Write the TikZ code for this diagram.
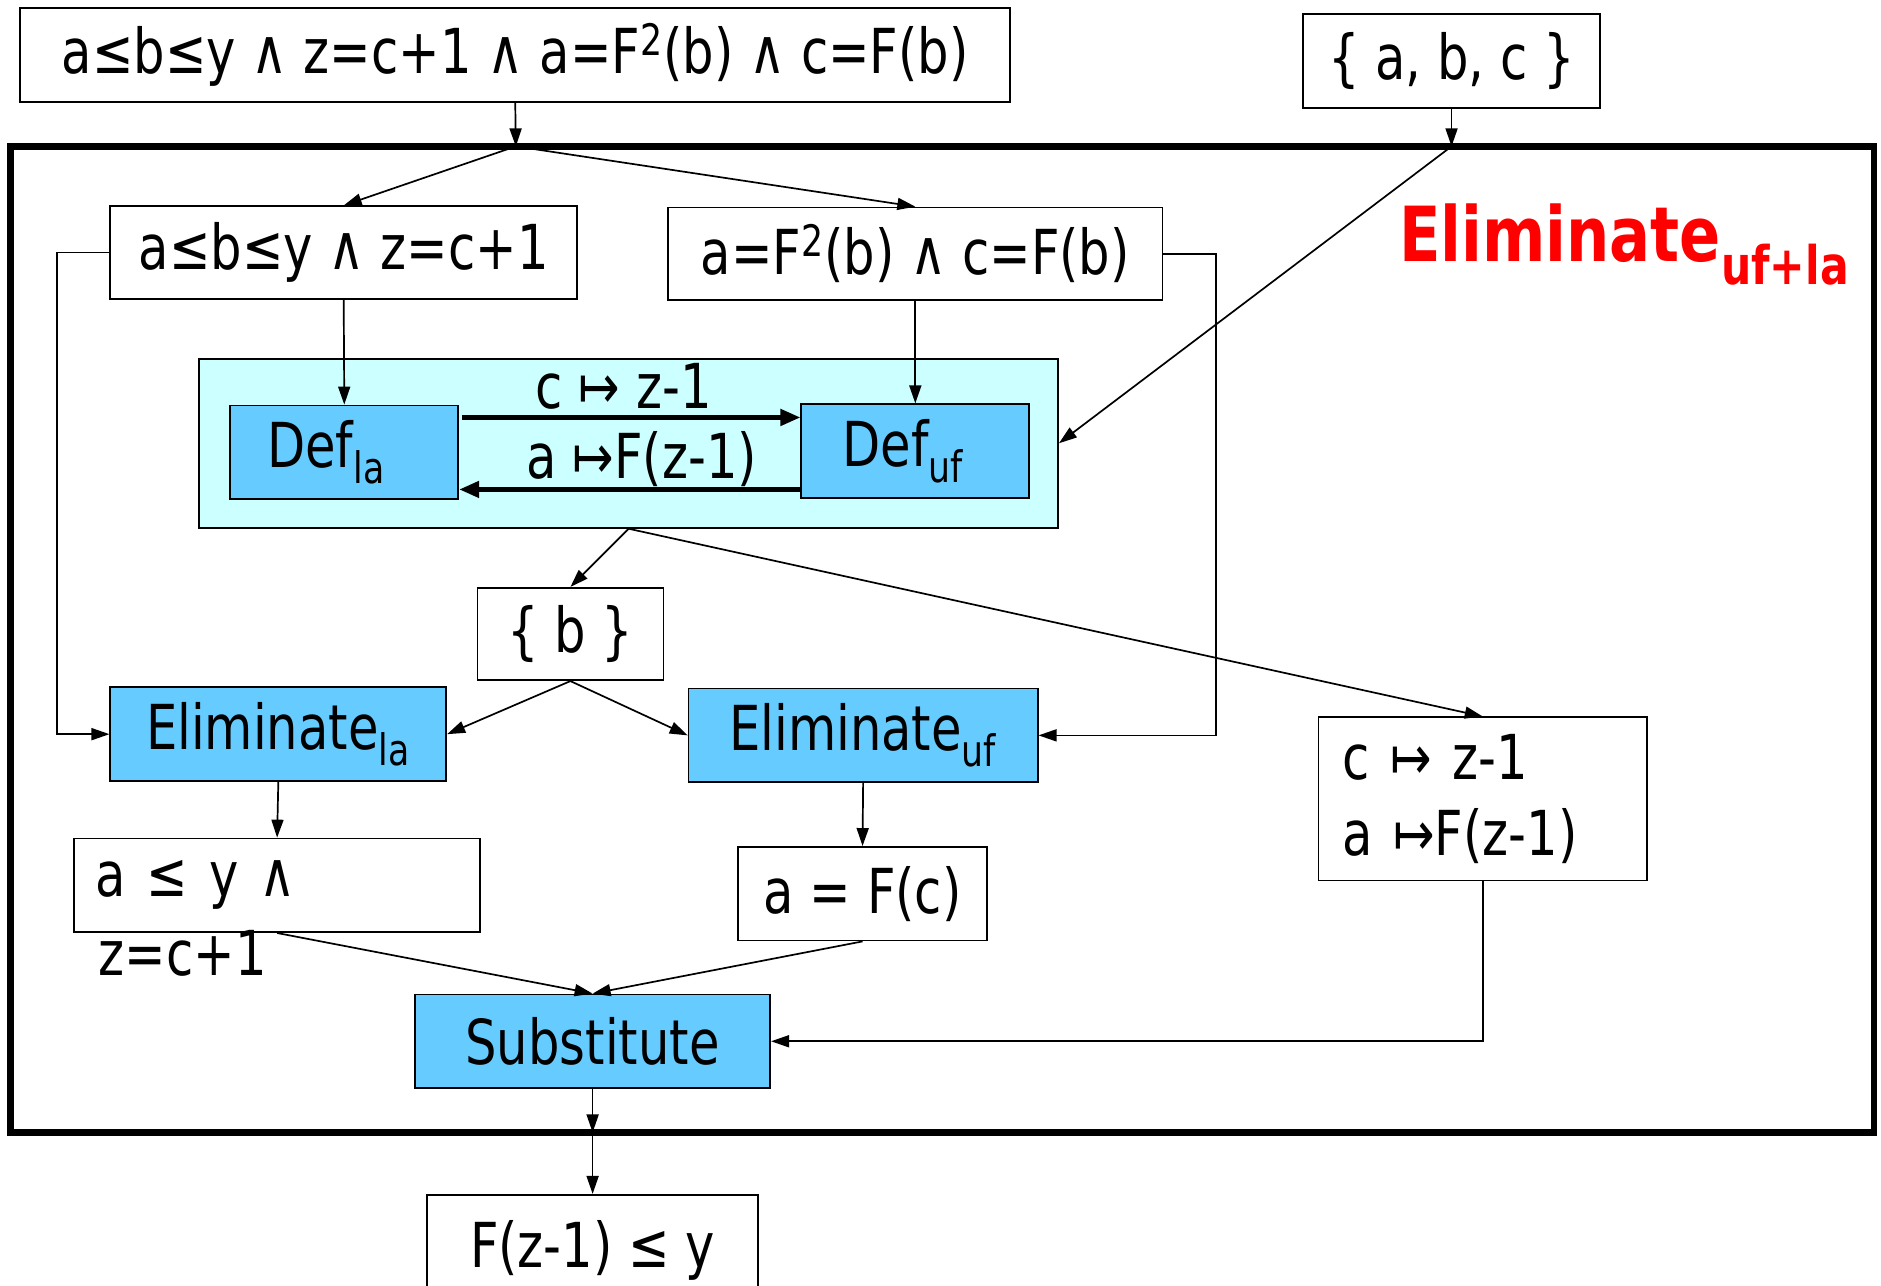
\documentclass[tikz,border=0pt]{standalone}
\usepackage{fontspec}
\setmainfont{DejaVu Sans}[FakeStretch=0.8]
\usetikzlibrary{arrows.meta}

\definecolor{defcyan}{HTML}{CCFFFF}
\definecolor{opblue}{HTML}{66CCFF}

\tikzset{
  plainbox/.style={draw, line width=0.9pt, fill=white, inner sep=0pt,
    font=\fontsize{31}{38}\selectfont},
  opbox/.style={plainbox, fill=opblue},
  dims/.style 2 args={minimum width=#1*0.6pt, minimum height=#2*0.6pt},
  arr/.style={line width=0.85pt, -{Triangle[length=9pt,width=6pt]}},
  thickarr/.style={line width=2.3pt, -{Triangle[length=10pt,width=8pt]}},
  plaintxt/.style={inner sep=0pt, font=\fontsize{31}{38}\selectfont},
}

\begin{document}
\begin{tikzpicture}[x=0.6pt, y=-0.6pt]
  \useasboundingbox (0,0) rectangle (1568,1072);

  % outer frame
  \draw[line width=3.3pt] (9,122) rectangle (1562,944);
  \coordinate (topin) at (430,122);
  \coordinate (setin) at (1210,122);
  \coordinate (frameout) at (494,944);

  \node[anchor=base west, inner sep=0pt, text=red,
    font=\fontsize{38}{44}\selectfont\bfseries] (title) at (1166,218)
    {Eliminate\textsubscript{uf+la}};

  % inputs
  \node[plainbox, dims={825}{78}] (top) at (429.5,46)
    {a≤b≤y ∧ z=c+1 ∧ a=F\textsuperscript{2}(b) ∧ c=F(b)};
  \node[plainbox, dims={248}{78}] (vars) at (1210,51) {\{ a, b, c \}};

  % split
  \node[plainbox, dims={389}{77}] (la1) at (286.5,210.5) {a≤b≤y ∧ z=c+1};
  \node[plainbox, dims={412}{77}] (uf1) at (763,211.5) {a=F\textsuperscript{2}(b) ∧ c=F(b)};

  % definitions
  \node[plainbox, fill=defcyan, dims={716}{141}] (defs) at (524,369.5) {};
  \node[opbox, dims={190}{78}] (defla) at (287,377) {Def\textsubscript{la}\kern18pt};
  \node[opbox, dims={190}{78}] (defuf) at (763,376) {Def\textsubscript{uf}\kern12pt};
  \coordinate (dlu) at (385,348);
  \coordinate (dul) at (668,408);
  \draw[thickarr] (dlu) -- (dlu -| defuf.west);
  \draw[thickarr] (dul) -- (dul -| defla.east);
  \node[plaintxt] (mapc) at (520,322) {c ↦ z-1};
  \node[plaintxt] (mapa) at (535,383) {a ↦F(z-1)};

  % shared variables and eliminations
  \node[plainbox, dims={155}{77}] (bset) at (475.5,528.5) {\{ b \}};
  \node[opbox, dims={280}{78}] (elimla) at (232,612) {Eliminate\textsubscript{la}};
  \node[opbox, dims={291}{78}] (elimuf) at (719.5,613) {Eliminate\textsubscript{uf}};
  \node[plainbox, align=left, text width=234*0.6pt, inner xsep=20*0.6pt,
    minimum height=136*0.6pt] (maps) at (1236,666) {c ↦ z-1\\a ↦F(z-1)};

  % results
  \node[plainbox, align=left, text width=302*0.6pt, inner xsep=18*0.6pt,
    minimum height=78*0.6pt] (aly) at (231,738) {a ≤ y ∧};
  \node[plaintxt, anchor=base west] (alytail) at (82,813) {z=c+1};
  \node[plainbox, dims={208}{78}] (afc) at (719,745) {a = F(c)};
  \node[opbox, dims={296}{78}] (subst) at (494,868) {Substitute};
  \node[plainbox, dims={276}{92}] (out) at (494,1042) {F(z-1) ≤ y};

  % connectors
  \foreach \a/\b in {top.south/topin, vars.south/setin,
      topin/la1.north, topin/uf1.north, setin/defs.east,
      la1.south/defla.north, uf1.south/defuf.north,
      defs.south/bset.north, defs.south/maps.north,
      bset.south/elimla.east, bset.south/elimuf.west,
      elimla.south/aly.north, elimuf.south/afc.north,
      aly.south/subst.north, afc.south/subst.north,
      subst.south/frameout, frameout/out.north}
    \draw[arr] (\a) -- (\b);
  \draw[arr] (la1.west) -- ++(-44,0) |- (elimla.west);
  \draw[arr] (uf1.east) -- ++(44,0) |- (elimuf.east);
  \draw[arr] (maps.south) |- (subst.east);
\end{tikzpicture}
\end{document}
